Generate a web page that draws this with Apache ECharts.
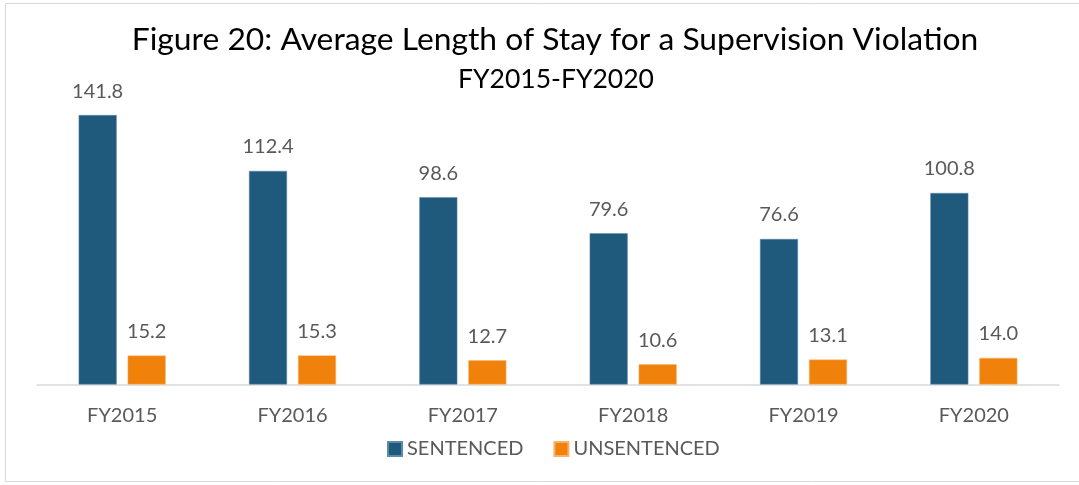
<!DOCTYPE html>
<html><head><meta charset="utf-8">
<script src="https://cdn.jsdelivr.net/npm/echarts@6/dist/echarts.min.js"></script>
<style>html,body{margin:0;padding:0;background:#fff}#c{width:1079px;height:485px}</style>
</head><body><div id="c"></div>
<script>
const categories = ['FY2015','FY2016','FY2017','FY2018','FY2019','FY2020'];
const sentenced = [141.8,112.4,98.6,79.6,76.6,100.8];
const unsentenced = [15.2,15.3,12.7,10.6,13.1,14.0];
const seriesNames = ['SENTENCED','UNSENTENCED'];
const titleText = 'Figure 20: Average Length of Stay for a Supervision Violation';
const subtitleText = 'FY2015-FY2020';

const FONT = 'Lato, "Open Sans", sans-serif';
const chart = echarts.init(document.getElementById('c'), null, {renderer:'canvas'});
const lbl = {show:true, position:'top', distance:14, color:'#595959', fontSize:20, fontFamily:FONT, formatter: p => p.value.toFixed(1)};
chart.setOption({
  animation:false,
  graphic:[{type:'rect', shape:{x:5.5,y:3.5,width:1080,height:478}, style:{fill:'none', stroke:'#d9d9d9', lineWidth:1}}],
  title:[
    {text:titleText, left:550, textAlign:'center', top:19, textStyle:{fontFamily:FONT, fontWeight:'normal', fontSize:31.8, color:'#000'}},
    {text:subtitleText, left:551, textAlign:'center', top:61, textStyle:{fontFamily:FONT, fontWeight:'normal', fontSize:26.5, color:'#000'}}
  ],
  legend:{data:seriesNames, bottom:21, left:382, itemWidth:14, itemHeight:14, itemGap:30, icon:'rect',
    textStyle:{fontFamily:FONT, fontSize:20, color:'#595959'}},
  grid:{left:37, right:20, top:80.5, bottom:100.5, containLabel:false},
  xAxis:{type:'category', data:categories, axisTick:{show:false},
    axisLine:{lineStyle:{color:'#d9d9d9', width:1.5}},
    axisLabel:{fontFamily:FONT, fontSize:20, color:'#595959', margin:21}},
  yAxis:{type:'value', min:0, max:160, show:false, splitLine:{show:false}},
  series:[
    {name:seriesNames[0], type:'bar', data:sentenced, barWidth:38, barGap:'29%', itemStyle:{color:'#1f5a7d', borderColor:'#5d8aa8', borderWidth:0.5}, label:lbl},
    {name:seriesNames[1], type:'bar', data:unsentenced, barWidth:38, itemStyle:{color:'#f0820c', borderColor:'#f6b26b', borderWidth:0.5}, label:lbl}
  ]
});
</script></body></html>
